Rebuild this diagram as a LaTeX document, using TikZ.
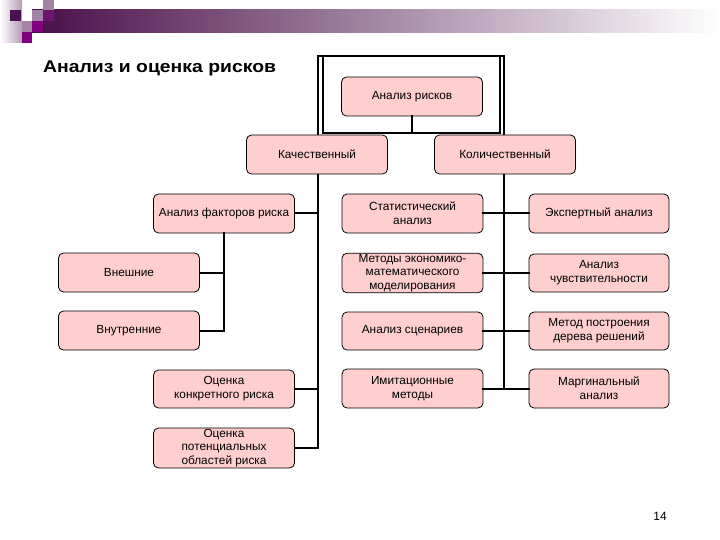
\documentclass[tikz,border=0pt]{standalone}
\usepackage{fontspec}
\setmainfont{Liberation Sans}
\begin{document}
\begin{tikzpicture}[x=1pt,y=-1pt,
  box/.style={draw=black, line width=0.8pt, fill=boxpink, rounded corners=5pt,
    minimum width=141pt, minimum height=39pt, inner sep=1pt, align=center,
    font=\fontsize{11.8}{14}\selectfont},
  conn/.style={line width=2pt, line cap=rect}]
\definecolor{boxpink}{RGB}{255,206,206}
\definecolor{barL}{RGB}{72,14,72}
\definecolor{sqD}{RGB}{74,16,80}
\definecolor{sqG}{RGB}{164,132,164}
\definecolor{sqM}{RGB}{128,0,128}
\definecolor{sqP}{RGB}{110,20,110}
\useasboundingbox (0,0) rectangle (720,540);
% decoration
\shade[left color=white, right color=sqG!80] (0,0) rectangle (22,43);
\shade[left color=barL, right color=white] (32,10) rectangle (720,33);
\fill[sqD] (10,10) rectangle (21,21);
\fill[sqG] (43,0) rectangle (54,10);
\fill[sqG] (32,10) rectangle (43,21);
\fill[sqP] (43,10) rectangle (54,21);
\fill[sqG] (22,21) rectangle (32,32);
\fill[sqM] (32,21) rectangle (43,32);
\fill[sqM] (22,32) rectangle (32,43);
% title
\node[anchor=base west, inner sep=0pt, font=\bfseries\fontsize{17}{20}\selectfont\addfontfeature{FakeStretch=1.14}] (title) at (43,73) {Анализ и оценка рисков};
\node[anchor=center, inner sep=0pt, font=\fontsize{12}{13}\selectfont] (pnum) at (660,516) {14};
% frame and connectors
\coordinate (fL) at (318,56);
\coordinate (fR) at (504,56);
\coordinate (iL) at (323,56);
\coordinate (iR) at (500,56);
\coordinate (iBL) at (323,133);
\coordinate (iBR) at (500,133);
\coordinate (iBC) at (412,133);
\coordinate (lEnd) at (318,448);
\coordinate (rEnd) at (504,388.5);
\draw[conn] (fL) -- (fR);
\draw[conn] (iL) -- (iBL) -- (iBR) -- (iR);
\draw[conn] (fL) -- (lEnd);
\draw[conn] (fR) -- (rEnd);
% nodes
\node[box] (ar) at (412,96.5) {Анализ рисков};
\node[box] (kach) at (317,154.5) {Качественный};
\node[box] (kol) at (505,154.5) {Количественный};
\node[box] (af) at (224,213.5) {Анализ факторов риска};
\node[box] (vn) at (129,272.5) {Внешние};
\node[box] (vt) at (129,330.5) {Внутренние};
\node[box, minimum height=38pt] (ok) at (224,389) {Оценка\\конкретного риска};
\node[box, minimum height=40pt, font=\fontsize{11.8}{13.5}\selectfont] (op) at (224,448) {Оценка\\потенциальных\\областей риска};
\node[box] (stat) at (412.5,213.5) {Статистический\\анализ};
\node[box, minimum height=38pt, font=\fontsize{11.8}{13.5}\selectfont] (meth) at (412.5,273) {Методы экономико-\\математического\\моделирования};
\node[box, minimum height=38pt] (scen) at (412.5,331) {Анализ сценариев};
\node[box] (imit) at (412.5,388.5) {Имитационные\\методы};
\node[box, minimum width=140pt] (exp) at (599,213.5) {Экспертный анализ};
\node[box, minimum width=140pt, minimum height=38pt] (sens) at (599,273) {Анализ\\чувствительности};
\node[box, minimum width=140pt, minimum height=38pt] (tree) at (599,331) {Метод построения\\дерева решений};
\node[box, minimum width=140pt] (marg) at (599,388.5) {Маргинальный\\анализ};
% connectors to nodes
\draw[conn] (ar.south) -- (iBC);
\draw[conn] (af.east) -- (af.east -| lEnd);
\draw[conn] (ok.east) -- (ok.east -| lEnd);
\draw[conn] (op.east) -- (op.east -| lEnd);
\draw[conn] (af.south) |- (vn.east);
\draw[conn] (af.south) |- (vt.east);
\draw[conn] (stat.east) -- (exp.west);
\draw[conn] (meth.east) -- (sens.west);
\draw[conn] (scen.east) -- (tree.west);
\draw[conn] (imit.east) -- (marg.west);
\end{tikzpicture}
\end{document}
